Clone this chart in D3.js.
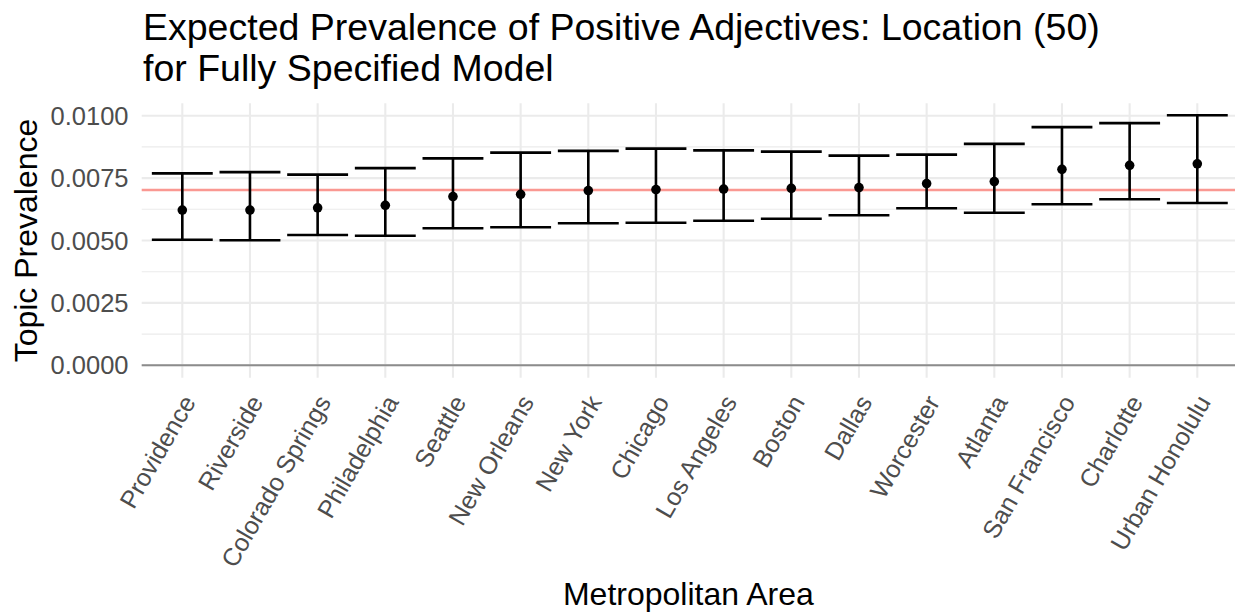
<!DOCTYPE html>
<html>
<head>
<meta charset="utf-8">
<script src="https://cdn.jsdelivr.net/npm/d3@7"></script>
<style>
  html, body { margin: 0; padding: 0; background: #fff; }
  svg { display: block; font-family: "Liberation Sans", Arial, Helvetica, sans-serif; }
</style>
</head>
<body>
<svg id="chart" width="1235" height="614"></svg>
<script>
// Metropolitan areas, ordered by estimated topic prevalence
const categories = ["Providence", "Riverside", "Colorado Springs", "Philadelphia", "Seattle",
  "New Orleans", "New York", "Chicago", "Los Angeles", "Boston", "Dallas", "Worcester",
  "Atlanta", "San Francisco", "Charlotte", "Urban Honolulu"];

// Point estimates and 95% interval bounds
const estimate = [0.00622, 0.00622, 0.00631, 0.00641, 0.00676, 0.00685, 0.00700, 0.00704,
  0.00706, 0.00709, 0.00712, 0.00728, 0.00736, 0.00785, 0.00801, 0.00807];
const lower = [0.00503, 0.00501, 0.00522, 0.00519, 0.00549, 0.00553, 0.00569, 0.00571,
  0.00579, 0.00587, 0.00601, 0.00629, 0.00611, 0.00645, 0.00665, 0.00650];
const upper = [0.00769, 0.00774, 0.00764, 0.00790, 0.00829, 0.00852, 0.00859, 0.00868,
  0.00861, 0.00856, 0.00840, 0.00844, 0.00887, 0.00954, 0.00970, 0.01002];

// Overall mean prevalence (reference line)
const overallMean = 0.00702;

const yTicks = [0, 0.0025, 0.005, 0.0075, 0.01];
const yMinorTicks = [0.00125, 0.00375, 0.00625, 0.00875];

const titleLines = ["Expected Prevalence of Positive Adjectives: Location (50)",
  "for Fully Specified Model"];
const xTitle = "Metropolitan Area";
const yTitle = "Topic Prevalence";

const svg = d3.select("#chart");

const x = d3.scalePoint().domain(categories).range([182.3, 1197.3]);
const step = x.step();
const panel = { left: 182.3 - 0.6 * step, right: 1235, top: 103.2, bottom: 377.8 };
const y = d3.scaleLinear().domain([-0.0005, 0.0105]).range([panel.bottom, panel.top]);

const grid = svg.append("g");
// minor horizontal grid
grid.selectAll("line.minor").data(yMinorTicks).join("line")
  .attr("x1", panel.left).attr("x2", panel.right)
  .attr("y1", d => y(d)).attr("y2", d => y(d))
  .attr("stroke", "#ebebeb").attr("stroke-width", 1.1);
// major horizontal grid
grid.selectAll("line.majory").data(yTicks).join("line")
  .attr("x1", panel.left).attr("x2", panel.right)
  .attr("y1", d => y(d)).attr("y2", d => y(d))
  .attr("stroke", "#ebebeb").attr("stroke-width", 2.1);
// vertical grid at each category
grid.selectAll("line.majorx").data(categories).join("line")
  .attr("x1", d => x(d)).attr("x2", d => x(d))
  .attr("y1", panel.top).attr("y2", panel.bottom)
  .attr("stroke", "#ebebeb").attr("stroke-width", 2.1);

// zero line
svg.append("line")
  .attr("x1", panel.left).attr("x2", panel.right)
  .attr("y1", y(0)).attr("y2", y(0))
  .attr("stroke", "#8c8c8c").attr("stroke-width", 2);

// mean reference line
svg.append("line")
  .attr("x1", panel.left).attr("x2", panel.right)
  .attr("y1", y(overallMean)).attr("y2", y(overallMean))
  .attr("stroke", "#f8766d").attr("stroke-opacity", 0.75).attr("stroke-width", 2.4);

// error bars
const rows = categories.map((c, i) => ({ c, est: estimate[i], lo: lower[i], hi: upper[i] }));
const capHalf = 0.45 * step;
const eb = svg.append("g").attr("stroke", "#000").attr("stroke-width", 2.6).attr("fill", "none");
eb.selectAll("line.v").data(rows).join("line")
  .attr("x1", d => x(d.c)).attr("x2", d => x(d.c))
  .attr("y1", d => y(d.lo)).attr("y2", d => y(d.hi));
eb.selectAll("line.top").data(rows).join("line")
  .attr("x1", d => x(d.c) - capHalf).attr("x2", d => x(d.c) + capHalf)
  .attr("y1", d => y(d.hi)).attr("y2", d => y(d.hi));
eb.selectAll("line.bot").data(rows).join("line")
  .attr("x1", d => x(d.c) - capHalf).attr("x2", d => x(d.c) + capHalf)
  .attr("y1", d => y(d.lo)).attr("y2", d => y(d.lo));

// point estimates
svg.append("g").selectAll("circle").data(rows).join("circle")
  .attr("cx", d => x(d.c)).attr("cy", d => y(d.est)).attr("r", 4.8)
  .attr("fill", "#000");

// y axis tick labels
svg.append("g").selectAll("text").data(yTicks).join("text")
  .attr("x", 128.5).attr("y", d => y(d))
  .attr("dy", "0.36em")
  .attr("text-anchor", "end")
  .attr("font-size", 25.5).attr("fill", "#4d4d4d")
  .text(d => d3.format(".4f")(d));

// x axis tick labels, rotated
const angle = 60;
svg.append("g").selectAll("text").data(categories).join("text")
  .attr("transform", d => `translate(${x(d) - 1.5},${393}) rotate(${-angle})`)
  .attr("dy", "0.72em")
  .attr("text-anchor", "end")
  .attr("font-size", 25).attr("fill", "#4d4d4d")
  .text(d => d);

// axis titles
svg.append("text")
  .attr("x", (panel.left + panel.right) / 2).attr("y", 605)
  .attr("text-anchor", "middle").attr("font-size", 32).attr("fill", "#000")
  .text(xTitle);
svg.append("text")
  .attr("transform", `translate(37,${(panel.top + panel.bottom) / 2}) rotate(-90)`)
  .attr("text-anchor", "middle").attr("font-size", 32).attr("fill", "#000")
  .text(yTitle);

// plot title
svg.append("g").selectAll("text").data(titleLines).join("text")
  .attr("x", 143).attr("y", (d, i) => 40 + i * 40.7)
  .attr("font-size", 37.5).attr("fill", "#000")
  .text(d => d);
</script>
</body>
</html>
